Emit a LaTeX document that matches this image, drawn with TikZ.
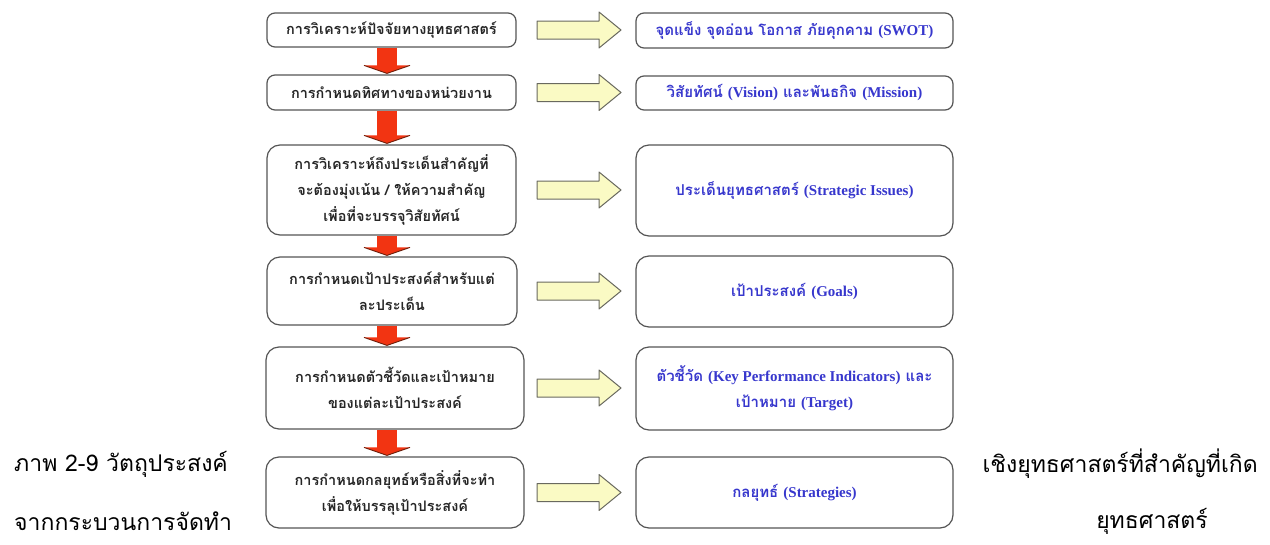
\documentclass[tikz,border=0pt]{standalone}
\usepackage{fontspec}
\setmainfont{Liberation Serif}
\newfontfamily\thai[Script=Thai]{Loma}
\newfontfamily\enf{Liberation Serif}
\usetikzlibrary{calc}
\definecolor{boxline}{RGB}{85,85,85}
\definecolor{bluetext}{RGB}{55,55,205}
\definecolor{yfill}{RGB}{250,250,196}
\definecolor{yline}{RGB}{105,105,95}
\definecolor{redarr}{RGB}{242,52,18}
\definecolor{redhead}{RGB}{110,30,10}
\newcommand{\en}[1]{{\enf\bfseries #1}}
\begin{document}
\begin{tikzpicture}[x=1pt,y=-1pt,
  lbox/.style={draw=boxline,line width=1.2pt,rounded corners=8pt,fill=white,
    align=center,inner sep=0pt,text=black!85,
    font=\thai\bfseries\fontsize{14.5}{26}\selectfont},
  rbox/.style={lbox,text=bluetext,font=\thai\bfseries\fontsize{15}{26}\selectfont},
  bigbox/.style={rounded corners=13pt},
  caption/.style={inner sep=0pt,font=\thai\fontsize{23}{26}\selectfont,text=black},
  yarr/.pic={\draw[fill=yfill,draw=yline,line width=1pt,line join=round]
      (0,-9) -- (62,-9) -- (62,-18) -- (84,0) -- (62,18) -- (62,9) -- (0,9) -- cycle;},
  ]
\useasboundingbox[fill=white] (0,0) rectangle (1270,544);
\coordinate (ax) at (387,0);
\coordinate (ya) at (537,0);

% left column
\node[lbox,minimum width=249,minimum height=34] (L1) at (391.5,30) {การวิเคราะห์ปัจจัยทางยุทธศาสตร์};
\node[lbox,minimum width=249,minimum height=35] (L2) at (391.5,92.5) {การกำหนดทิศทางของหน่วยงาน};
\node[lbox,bigbox,minimum width=249,minimum height=90] (L3) at (391.5,190) {การวิเคราะห์ถึงประเด็นสำคัญที่\\จะต้องมุ่งเน้น / ให้ความสำคัญ\\เพื่อที่จะบรรจุวิสัยทัศน์};
\node[lbox,bigbox,minimum width=250,minimum height=68] (L4) at (392,291) {การกำหนดเป้าประสงค์สำหรับแต่\\ละประเด็น};
\node[lbox,bigbox,minimum width=258,minimum height=82] (L5) at (395,388) {การกำหนดตัวชี้วัดและเป้าหมาย\\ของแต่ละเป้าประสงค์};
\node[lbox,bigbox,minimum width=258,minimum height=71] (L6) at (395,492.5) {การกำหนดกลยุทธ์หรือสิ่งที่จะทำ\\เพื่อให้บรรลุเป้าประสงค์};

% right column
\node[rbox,minimum width=317,minimum height=35] (R1) at (794.5,30.5) {จุดแข็ง จุดอ่อน โอกาส ภัยคุกคาม \en{(SWOT)}};
\node[rbox,minimum width=317,minimum height=34] (R2) at (794.5,93) {วิสัยทัศน์ \en{(Vision)} และพันธกิจ \en{(Mission)}};
\node[rbox,bigbox,minimum width=317,minimum height=91] (R3) at (794.5,190.5) {ประเด็นยุทธศาสตร์ \en{(Strategic Issues)}};
\node[rbox,bigbox,minimum width=317,minimum height=71] (R4) at (794.5,291.5) {เป้าประสงค์ \en{(Goals)}};
\node[rbox,bigbox,minimum width=317,minimum height=83] (R5) at (794.5,388.5) {ตัวชี้วัด \en{(Key Performance Indicators)} และ\\เป้าหมาย \en{(Target)}};
\node[rbox,bigbox,minimum width=317,minimum height=71] (R6) at (794.5,492.5) {กลยุทธ์ \en{(Strategies)}};

% yellow arrows
\foreach \i in {1,...,6} { \pic at (L\i.east -| ya) {yarr}; }

% red arrows
\foreach \a/\b in {L1/L2,L2/L3,L3/L4,L4/L5,L5/L6} {
  \fill[redarr] let \p1=(\a.south -| ax), \p2=(\b.north -| ax) in
    (\x1-10pt,\y1) rectangle (\x1+10pt,\y2+8pt);
  \fill[redarr] let \p1=(\a.south -| ax), \p2=(\b.north -| ax) in
    (\x1-23pt,\y2+9pt) -- (\x1+23pt,\y2+9pt) -- (\x1,\y2+1pt) -- cycle;
  \draw[redhead,line width=0.9pt] let \p1=(\a.south -| ax), \p2=(\b.north -| ax) in
    (\x1-23pt,\y2+9pt) -- (\x1,\y2+1pt) -- (\x1+23pt,\y2+9pt);
}

% caption
\node[caption,anchor=west] (c1) at (14,464) {ภาพ 2-9 วัตถุประสงค์};
\node[caption,anchor=west] (c2) at (14,521) {จากกระบวนการจัดทำ};
\node[caption,anchor=east] (c3) at (1258,464) {เชิงยุทธศาสตร์ที่สำคัญที่เกิด};
\node[caption] (c4) at (1152,521) {ยุทธศาสตร์};
\end{tikzpicture}
\end{document}
